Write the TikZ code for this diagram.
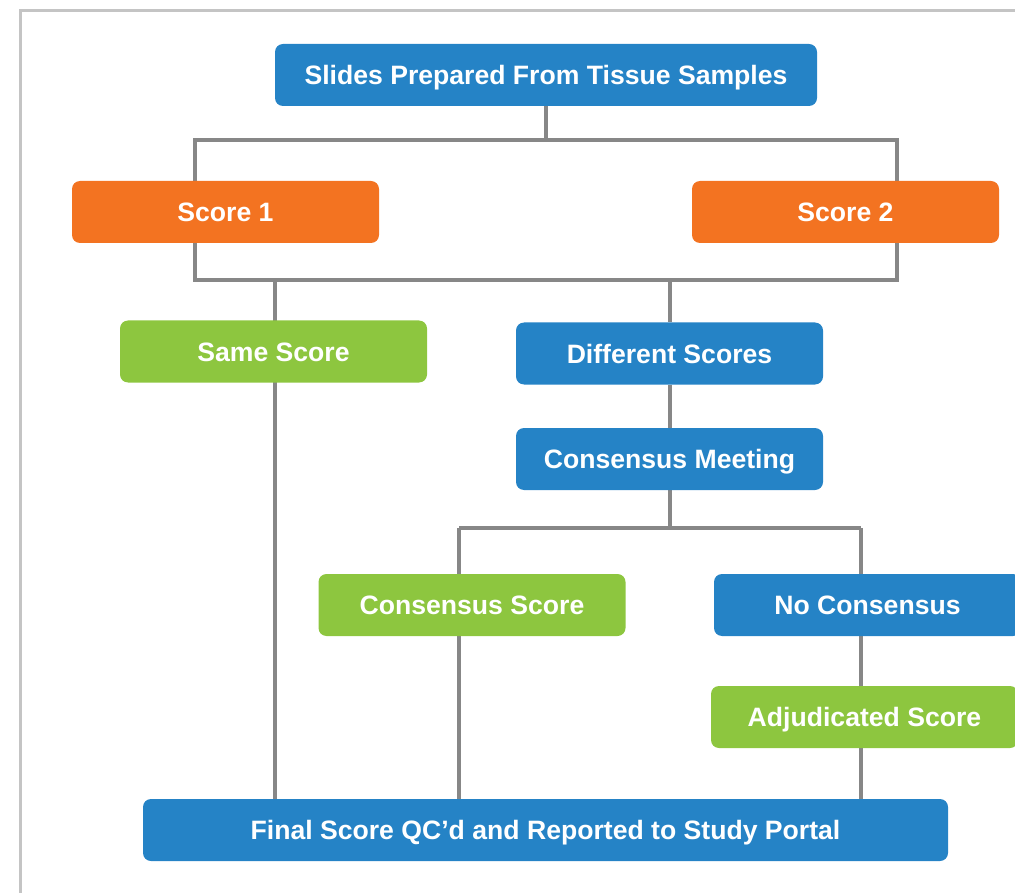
\documentclass[tikz,border=0pt]{standalone}
\usepackage{fontspec}
\setmainfont{Liberation Sans}
\usetikzlibrary{backgrounds}
\definecolor{cblue}{HTML}{2583C6}
\definecolor{corange}{HTML}{F37321}
\definecolor{cgreen}{HTML}{8DC63F}
\definecolor{cline}{HTML}{878787}
\definecolor{cframe}{HTML}{C4C4C4}
\begin{document}
\begin{tikzpicture}[x=1pt,y=-1pt,
  box/.style={rounded corners=8pt, minimum width=307pt, minimum height=62pt, inner sep=0pt,
    text height=19.3pt, text depth=0pt,
    text=white, font=\fontsize{26.6}{30}\selectfont\bfseries},
  bluebox/.style={box, fill=cblue},
  orangebox/.style={box, fill=corange},
  greenbox/.style={box, fill=cgreen},
  conn/.style={draw=cline, line width=4pt}]
\useasboundingbox (0,0) rectangle (1015,893);
\draw[cframe, line width=3pt] (20.5,893) -- (20.5,10.5) -- (1015,10.5);

\node[bluebox, minimum width=542pt] (slides) at (546,75) {Slides Prepared From Tissue Samples};
\node[orangebox] (s1) at (225.5,212) {Score 1};
\node[orangebox] (s2) at (845.5,212) {Score 2};
\node[greenbox] (same) at (273.5,351.5) {Same Score};
\node[bluebox] (diff) at (669.5,353.5) {Different Scores};
\node[bluebox] (cm) at (669.5,459) {Consensus Meeting};
\node[greenbox] (cs) at (472,605) {Consensus Score};
\node[bluebox] (noc) at (867.5,605) {No Consensus};
\node[greenbox] (adj) at (864.5,717) {Adjudicated Score};
\node[bluebox, minimum width=805pt] (final) at (545.5,830) {Final Score QC’d and Reported to Study Portal};

\coordinate (t1) at (546,140);
\coordinate (tl) at (195,140);
\coordinate (tr) at (897,140);
\coordinate (bl) at (195,280);
\coordinate (br) at (897,280);
\coordinate (b1) at (275,280);
\coordinate (b2) at (669.5,280);
\coordinate (m1) at (669.5,528);
\coordinate (ml) at (459,528);
\coordinate (mr) at (861,528);

\begin{scope}[on background layer]
\draw[conn] (slides.south) -- (t1);
\draw[conn] (tl) -- (tr) -- (br) -- (bl) -- cycle;
\draw[conn] (b1) -- (final.north -| b1);
\draw[conn] (b2) -- (diff.north);
\draw[conn] (diff.south) -- (cm.north);
\draw[conn] (cm.south) -- (m1);
\draw[conn] (ml) -- (mr);
\draw[conn] (ml) -- (final.north -| ml);
\draw[conn] (mr) -- (noc.north -| mr);
\draw[conn] (noc.south -| mr) -- (adj.north -| mr);
\draw[conn] (adj.south -| mr) -- (final.north -| mr);
\end{scope}
\end{tikzpicture}
\end{document}
